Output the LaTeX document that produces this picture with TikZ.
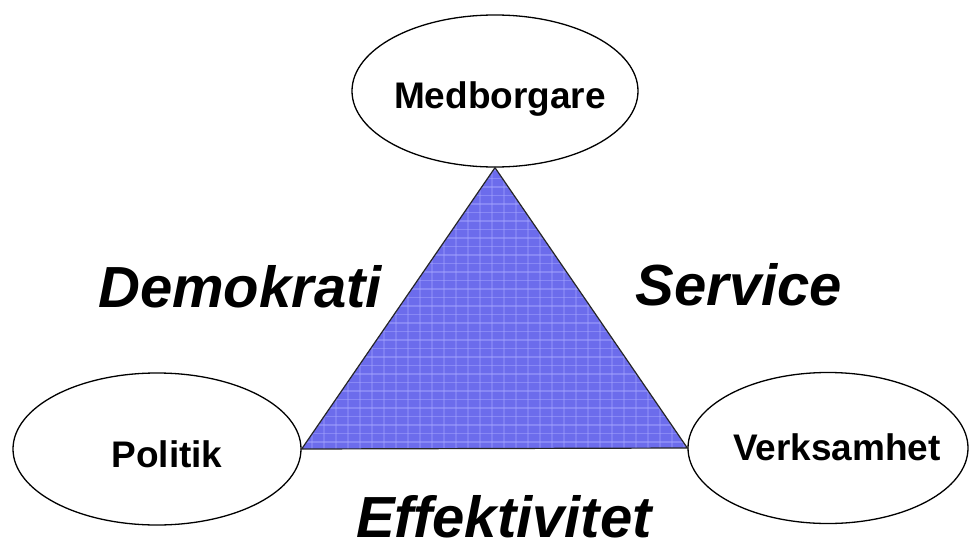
\documentclass[tikz,border=0pt]{standalone}
\usepackage{fontspec}
\setmainfont{Liberation Sans}
\usetikzlibrary{shapes.geometric}
\definecolor{triblue}{RGB}{108,108,236}
\definecolor{trilight}{RGB}{165,165,255}
\tikzset{
  oval/.style={draw=black, line width=1.3pt, ellipse, inner sep=0pt, fill=white},
  ovaltext/.style={font=\fontsize{37}{40}\selectfont\bfseries, anchor=base, inner sep=0pt},
  bigtext/.style={font=\fontsize{58}{62}\selectfont\bfseries\itshape, anchor=base, inner sep=0pt, text depth=0pt},
  tri/.style={draw=black!85, line width=1.2pt, line join=miter}
}
\begin{document}
\begin{tikzpicture}[x=1pt,y=-1pt]
\useasboundingbox (0,0) rectangle (970,541);
\node[oval, minimum width=286pt, minimum height=152pt] (med) at (495,91) {};
\node[oval, minimum width=288pt, minimum height=152pt] (pol) at (157,449) {};
\node[oval, minimum width=280pt, minimum height=151pt] (ver) at (828,448) {};
% triangle
\fill[triblue] (med.south) -- (pol.east) -- (ver.west) -- cycle;
\begin{scope}
  \clip (med.south) -- (pol.east) -- (ver.west) -- cycle;
  \foreach \yy in {170,178.5,...,450} {
    \draw[trilight, line width=1.6pt, opacity=0.5] (300,\yy) -- (690,\yy);
  }
  \foreach \xx in {300,312,...,690} {
    \draw[trilight, line width=1.2pt, opacity=0.35] (\xx,165) -- (\xx,450);
  }
\end{scope}
\draw[tri] (med.south) -- (pol.east) -- (ver.west) -- cycle;
\node[ovaltext] (medt) at (500,108) {Medborgare};
\node[ovaltext] (polt) at (167,467) {Politik};
\node[ovaltext] (vert) at (837,460) {Verksamhet};
\node[bigtext] (dem) at (240,307) {Demokrati};
\node[bigtext] (ser) at (739,305) {Service};
\node[bigtext] (eff) at (504,537) {Effektivitet};
\end{tikzpicture}
\end{document}
